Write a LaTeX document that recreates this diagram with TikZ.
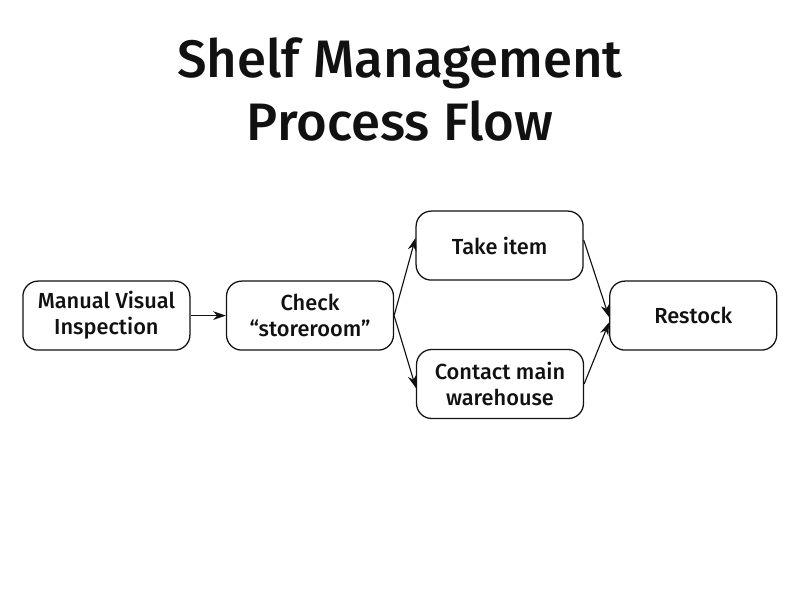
\documentclass[tikz,border=0pt]{standalone}
\usepackage{fontspec}
\setmainfont{Fira Sans}[UprightFont=* Medium]
\usepackage{tikz}
\usetikzlibrary{arrows.meta,positioning}
\definecolor{ink}{HTML}{111111}

\begin{document}
\begin{tikzpicture}[>={Stealth[length=3.2mm,width=2.2mm]},
  stepbox/.style={draw=ink,line width=0.9pt,rounded corners=0.38cm,
    minimum width=4.175cm,minimum height=1.725cm,align=center,
    text=ink,font=\fontsize{15.5}{18.5}\selectfont},
  flow/.style={->,line width=0.8pt,ink}]
  \useasboundingbox (0,0) rectangle (20,15);
  \fill[white] (0,0) rectangle (20,15);

  \node[align=center,text=ink,font=\fontsize{37.5}{44.5}\selectfont] (title) at (10,12.76)
    {Shelf Management\\Process Flow};

  \node[stepbox] (insp) at (2.66,7.11) {Manual Visual\\Inspection};
  \node[stepbox] (check) at (7.75,7.11) {Check\\“storeroom”};
  \node[stepbox] (take) at (12.49,8.86) {Take item};
  \node[stepbox] (contact) at (12.50,5.40) {Contact main\\warehouse};
  \node[stepbox] (restock) at (17.33,7.11) {Restock};

  \draw[flow] (insp.east) -- (check.west);
  \draw[flow] (check.east) -- ([yshift=0.19cm]take.west);
  \draw[flow] (check.east) -- ([yshift=-0.1cm]contact.west);
  \draw[flow] ([yshift=0.14cm]take.east) -- ([yshift=-0.04cm]restock.west);
  \draw[flow] (contact.east) -- ([yshift=-0.17cm]restock.west);
\end{tikzpicture}
\end{document}
